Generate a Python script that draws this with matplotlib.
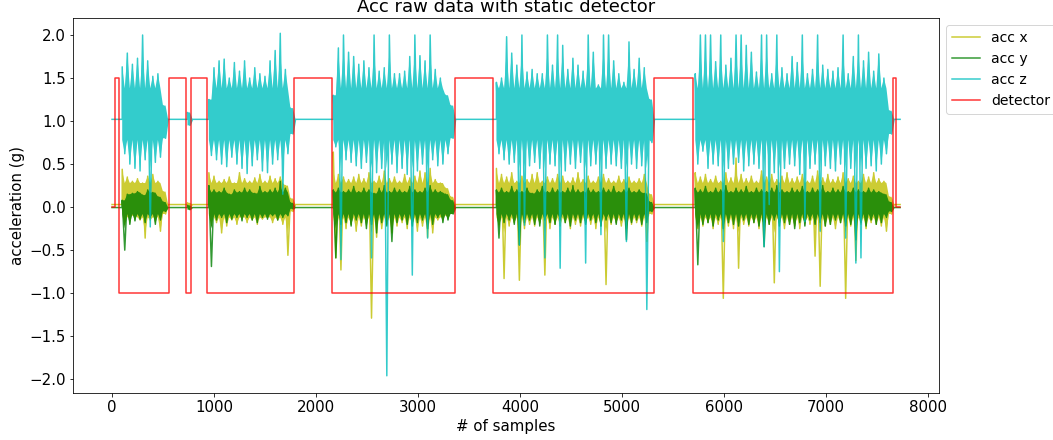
import numpy as np
import matplotlib
matplotlib.use('Agg')
import matplotlib.pyplot as plt

N_SAMPLES = 7729
STEP = 50  # samples per min/max bucket in the active stretches

# resting level of each axis (g)
x_rest, y_rest, z_rest = 0.03, -0.005, 1.02

# solid middle of the band while moving (bottom, top)
x_core = (-0.12, 0.28)
y_core = (-0.08, 0.17)
z_core = (0.78, 1.38)

# limits of the dense body; anything further out stays a thin spike
x_body = (-0.30, 0.42)
y_body = (-0.25, 0.24)
z_body = (0.45, 1.80)

# static detector: sample where each level starts, and the level held
det_edges = [0, 25, 72, 562, 725, 774, 931, 1781, 2157, 3366, 3732, 5317, 5696, 7657, 7686]
det_levels = [0, 1.5, -1, 1.5, -1, 1.5, -1, 1.5, -1, 1.5, -1, 1.5, -1, 1.5, 0]

# first sample of every movement stretch
seg_start = [100, 740, 950, 2170, 3770, 5720]

# ---- bucket max / min per stretch -------------------------------------------
z1_hi = [1.63, 1.79, 1.66, 1.73, 2.00, 1.70, 1.52, 1.55, 1.18]
z1_lo = [0.62, 0.50, 0.45, 0.42, 0.55, -0.23, 0.52, 0.58, 0.80]
x1_hi = [0.44, 0.35, 0.30, 0.33, 0.28, 0.36, 0.38, 0.30, 0.18]
x1_lo = [-0.05, -0.12, -0.10, -0.15, -0.36, -0.15, -0.12, -0.28, -0.08]
y1_hi = [0.08, 0.15, 0.16, 0.18, 0.14, 0.20, 0.17, 0.12, 0.06]
y1_lo = [-0.50, -0.20, -0.16, -0.14, -0.18, -0.12, -0.20, -0.15, -0.05]

z2_hi, z2_lo = [1.10], [0.95]
x2_hi, x2_lo = [0.05], [0.00]
y2_hi, y2_lo = [0.02], [-0.03]

z3_hi = [1.25, 1.62, 1.70, 1.72, 1.50, 1.68, 1.58, 1.70, 1.50, 1.62, 1.55, 1.52, 1.70, 1.82, 2.02, 1.60, 1.15]
z3_lo = [0.60, 0.55, 0.50, 0.47, 0.58, 0.50, 0.45, 0.39, 0.48, 0.55, 0.42, 0.40, 0.50, 0.55, 0.15, 0.62, 0.85]
x3_hi = [0.40, 0.36, 0.30, 0.32, 0.35, 0.28, 0.40, 0.33, 0.30, 0.34, 0.38, 0.30, 0.36, 0.33, 0.35, 0.25, 0.10]
x3_lo = [-0.10, -0.18, -0.30, -0.22, -0.15, -0.20, -0.12, -0.18, -0.15, -0.20, -0.14, -0.12, -0.18, -0.15, -0.20, -0.56, -0.05]
y3_hi = [0.25, 0.20, 0.18, 0.22, 0.15, 0.20, 0.18, 0.22, 0.20, 0.16, 0.24, 0.18, 0.20, 0.22, 0.30, 0.22, 0.05]
y3_lo = [-0.69, -0.15, -0.12, -0.18, -0.14, -0.12, -0.16, -0.12, -0.15, -0.18, -0.12, -0.14, -0.10, -0.15, -0.12, -0.10, -0.02]

z4_hi = [1.30, 1.85, 2.00, 1.80, 1.75, 1.66, 1.70, 1.62, 2.00, 1.58, 1.62, 2.00,
         1.55, 1.55, 1.58, 1.75, 2.00, 1.76, 1.70, 2.00, 1.60, 1.50, 1.30, 1.18]
z4_lo = [0.70, -0.61, 0.55, 0.52, 0.48, 0.45, 0.52, -0.59, 0.40, 0.45, -1.96, 0.50,
         0.40, 0.45, 0.38, -0.79, 0.42, 0.50, -0.36, 0.55, 0.48, 0.50, 0.62, 0.80]
x4_hi = [0.64, 0.38, 0.35, 0.32, 0.35, 0.38, 0.33, 0.40, 0.30, 0.36, 0.42, 0.33,
         0.35, 0.30, 0.38, 0.34, 0.36, 0.42, 0.40, 0.45, 0.32, 0.28, 0.22, 0.12]
x4_lo = [-0.59, -0.73, -0.25, -0.20, -0.28, -0.22, -0.18, -1.29, -0.35, -0.25, -0.20, -0.30,
         -0.22, -0.18, -0.25, -0.20, -0.28, -0.22, -0.35, -0.30, -0.15, -0.12, -0.10, -0.05]
y4_hi = [0.20, 0.22, 0.18, 0.20, 0.24, 0.18, 0.22, 0.20, 0.16, 0.22, 0.25, 0.18,
         0.22, 0.20, 0.18, 0.24, 0.20, 0.18, 0.22, 0.25, 0.20, 0.18, 0.15, 0.08]
y4_lo = [-0.59, -0.20, -0.18, -0.22, -0.15, -0.18, -0.25, -0.20, -0.30, -0.18, -0.22, -0.40,
         -0.18, -0.15, -0.20, -0.22, -0.18, -0.15, -0.25, -0.20, -0.12, -0.18, -0.15, -0.08]

z5_hi = [1.45, 1.50, 1.98, 1.79, 1.65, 2.00, 1.57, 1.60, 1.55, 1.55, 2.00, 1.65, 2.00, 1.88, 1.60, 1.73,
         1.65, 1.58, 2.00, 1.80, 1.42, 2.00, 2.00, 1.70, 1.55, 1.45, 1.92, 1.60, 1.73, 1.62, 1.25]
z5_lo = [0.62, 0.55, 0.50, 0.52, -0.44, -0.21, 0.48, 0.52, 0.45, -0.59, 0.50, 0.48, -0.71, 0.42, 0.50, 0.45,
         0.52, -0.65, 0.48, 0.50, -0.32, 0.45, 0.50, 0.48, 0.45, -0.40, 0.50, 0.45, 0.48, -1.19, 0.75]
x5_hi = [0.45, 0.38, 0.35, 0.40, 0.30, 0.36, 0.32, 0.38, 0.40, 0.30, 0.35, 0.33, 0.38, 0.36, 0.30, 0.34,
         0.40, 0.32, 0.36, 0.30, 0.35, 0.38, 0.33, 0.30, 0.36, 0.32, 0.35, 0.30, 0.33, 0.38, 0.15]
x5_lo = [-0.20, -0.83, -0.22, -0.18, -0.85, -0.25, -0.20, -0.22, -0.18, -0.79, -0.25, -0.20, -0.22, -0.18, -0.25, -0.20,
         -0.22, -0.18, -0.20, -0.25, -0.22, -0.90, -0.20, -0.18, -0.22, -0.25, -0.20, -0.18, -0.22, -0.40, -0.08]
y5_hi = [0.20, 0.22, 0.18, 0.24, 0.20, 0.18, 0.22, 0.16, 0.20, 0.24, 0.18, 0.22, 0.20, 0.18, 0.22, 0.25,
         0.20, 0.18, 0.22, 0.20, 0.18, 0.22, 0.20, 0.24, 0.18, 0.20, 0.22, 0.18, 0.20, 0.16, 0.06]
y5_lo = [-0.36, -0.18, -0.15, -0.20, -0.44, -0.18, -0.15, -0.20, -0.22, -0.15, -0.18, -0.20, -0.15, -0.18, -0.22, -0.15,
         -0.18, -0.20, -0.15, -0.18, -0.22, -0.15, -0.18, -0.20, -0.15, -0.38, -0.18, -0.15, -0.20, -0.18, -0.05]

z6_hi = [1.55, 2.00, 2.00, 2.00, 1.69, 2.00, 1.65, 1.73, 2.00, 2.00, 1.88, 1.80, 1.57, 2.00, 2.00, 1.55, 2.00, 1.62, 1.55, 1.75,
         1.68, 2.00, 1.55, 1.60, 2.00, 1.65, 1.60, 1.58, 1.62, 2.00, 1.55, 1.75, 2.00, 1.70, 1.80, 1.58, 1.78, 1.50, 1.12]
z6_lo = [0.50, 0.65, 0.45, 0.50, 0.48, -0.40, 0.45, 0.50, 0.52, 0.42, 0.48, 0.50, 0.45, -0.46, 0.03, 0.40, -0.75, 0.45, 0.50, 0.48,
         0.38, -0.17, 0.45, 0.50, -0.28, 0.48, 0.45, 0.42, 0.50, -0.36, 0.45, -0.65, -0.59, 0.45, 0.48, 0.42, 0.50, 0.62, 0.85]
x6_hi = [0.40, 0.35, 0.38, 0.32, 0.36, 0.30, 0.40, 0.34, 0.57, 0.38, 0.33, 0.36, 0.30, 0.42, 0.35, 0.38, 0.32, 0.36, 0.40, 0.33,
         0.35, 0.38, 0.30, 0.36, 0.42, 0.34, 0.38, 0.32, 0.35, 0.40, 0.33, 0.36, 0.30, 0.38, 0.35, 0.40, 0.33, 0.30, 0.12]
x6_lo = [-0.25, -0.22, -0.18, -0.25, -0.20, -1.06, -0.22, -0.25, -0.71, -0.20, -0.22, -0.18, -0.25, -0.22, -0.20, -0.88, -0.18, -0.25, -0.20, -0.22,
         -0.25, -0.18, -0.20, -0.57, -0.92, -0.22, -0.20, -0.25, -0.18, -1.06, -0.22, -0.62, -0.20, -0.25, -0.18, -0.20, -0.22, -0.28, -0.08]
y6_hi = [0.22, 0.20, 0.24, 0.18, 0.22, 0.20, 0.25, 0.18, 0.22, 0.20, 0.24, 0.18, 0.22, 0.20, 0.18, 0.22, 0.25, 0.20, 0.18, 0.22,
         0.20, 0.24, 0.18, 0.22, 0.20, 0.25, 0.18, 0.22, 0.20, 0.24, 0.18, 0.22, 0.20, 0.18, 0.22, 0.20, 0.18, 0.15, 0.06]
y6_lo = [-0.67, -0.20, -0.18, -0.22, -0.15, -0.25, -0.18, -0.20, -0.22, -0.15, -0.20, -0.18, -0.22, -0.46, -0.20, -0.15, -0.22, -0.18, -0.20, -0.25,
         -0.18, -0.22, -0.15, -0.20, -0.18, -0.22, -0.20, -0.15, -0.18, -0.22, -0.20, -0.38, -0.18, -0.22, -0.15, -0.20, -0.18, -0.12, -0.05]

x_hi = [x1_hi, x2_hi, x3_hi, x4_hi, x5_hi, x6_hi]
x_lo = [x1_lo, x2_lo, x3_lo, x4_lo, x5_lo, x6_lo]
y_hi = [y1_hi, y2_hi, y3_hi, y4_hi, y5_hi, y6_hi]
y_lo = [y1_lo, y2_lo, y3_lo, y4_lo, y5_lo, y6_lo]
z_hi = [z1_hi, z2_hi, z3_hi, z4_hi, z5_hi, z6_hi]
z_lo = [z1_lo, z2_lo, z3_lo, z4_lo, z5_lo, z6_lo]


def build_trace(rest, his, los):
    """flat at rest level, max/min zig-zag inside every movement stretch"""
    t, a = [0], [rest]
    for start, hi, lo in zip(seg_start, his, los):
        assert len(hi) == len(lo)
        t.append(start); a.append(rest)
        for i, (h, l) in enumerate(zip(hi, lo)):
            t += [start + STEP * i, start + STEP * i + STEP // 2]
            a += [h, l]
        t.append(start + STEP * len(hi)); a.append(rest)
    t.append(N_SAMPLES); a.append(rest)
    return np.array(t), np.array(a)


def draw_axis(ax, rest, his, los, core, body, color, flat, label, z):
    # thin trace first, the opaque body on top hides it where it is dense
    t, a = build_trace(rest, his, los)
    ax.plot(t, a, color=color, alpha=0.8, lw=1.5, label=label, zorder=z)
    half = STEP // 2
    for start, hi, lo in zip(seg_start, his, los):
        hi, lo = np.asarray(hi), np.asarray(lo)
        t_hi = start + STEP * np.arange(len(hi))
        t_lo = t_hi + half
        top = np.minimum(hi, body[1])
        bot = np.maximum(lo, body[0])
        # saw-tooth outline: peaks at the bucket max/min, notches at the core
        ex = np.ravel(np.column_stack([t_hi, t_lo]))
        uy = np.ravel(np.column_stack([top, np.minimum(top, core[1])]))
        ly = np.ravel(np.column_stack([np.maximum(bot, core[0]), bot]))
        px = np.r_[start, ex, t_lo[-1] + half, ex[::-1]]
        py = np.r_[rest, uy, rest, ly[::-1]]
        ax.fill(px, py, color=flat, lw=0, zorder=z + 0.1)


plt.rcParams.update({'font.size': 15})
fig = plt.figure(figsize=(1053 / 72, 440 / 72), dpi=72)
ax = fig.add_axes([0.069, 0.1068, 0.8227, 0.8516])

draw_axis(ax, x_rest, x_hi, x_lo, x_core, x_body, 'y', '#cccc33', 'acc x', 2)
draw_axis(ax, y_rest, y_hi, y_lo, y_core, y_body, 'g', '#2a8f0b', 'acc y', 3)
draw_axis(ax, z_rest, z_hi, z_lo, z_core, z_body, 'c', '#33cccc', 'acc z', 4)
ax.step(det_edges + [N_SAMPLES], det_levels + [det_levels[-1]], where='post',
        color='r', alpha=0.8, lw=1.5, label='detector', zorder=5)

ax.set_xlim(-386, 8110)
ax.set_ylim(-2.16, 2.194)
ax.set_title('Acc raw data with static detector', fontsize=18)
ax.set_xlabel('# of samples')
ax.set_ylabel('acceleration (g)')
ax.legend(loc='upper left', bbox_to_anchor=(1, 1), fontsize=14)

fig.savefig('out.png', dpi=72)
